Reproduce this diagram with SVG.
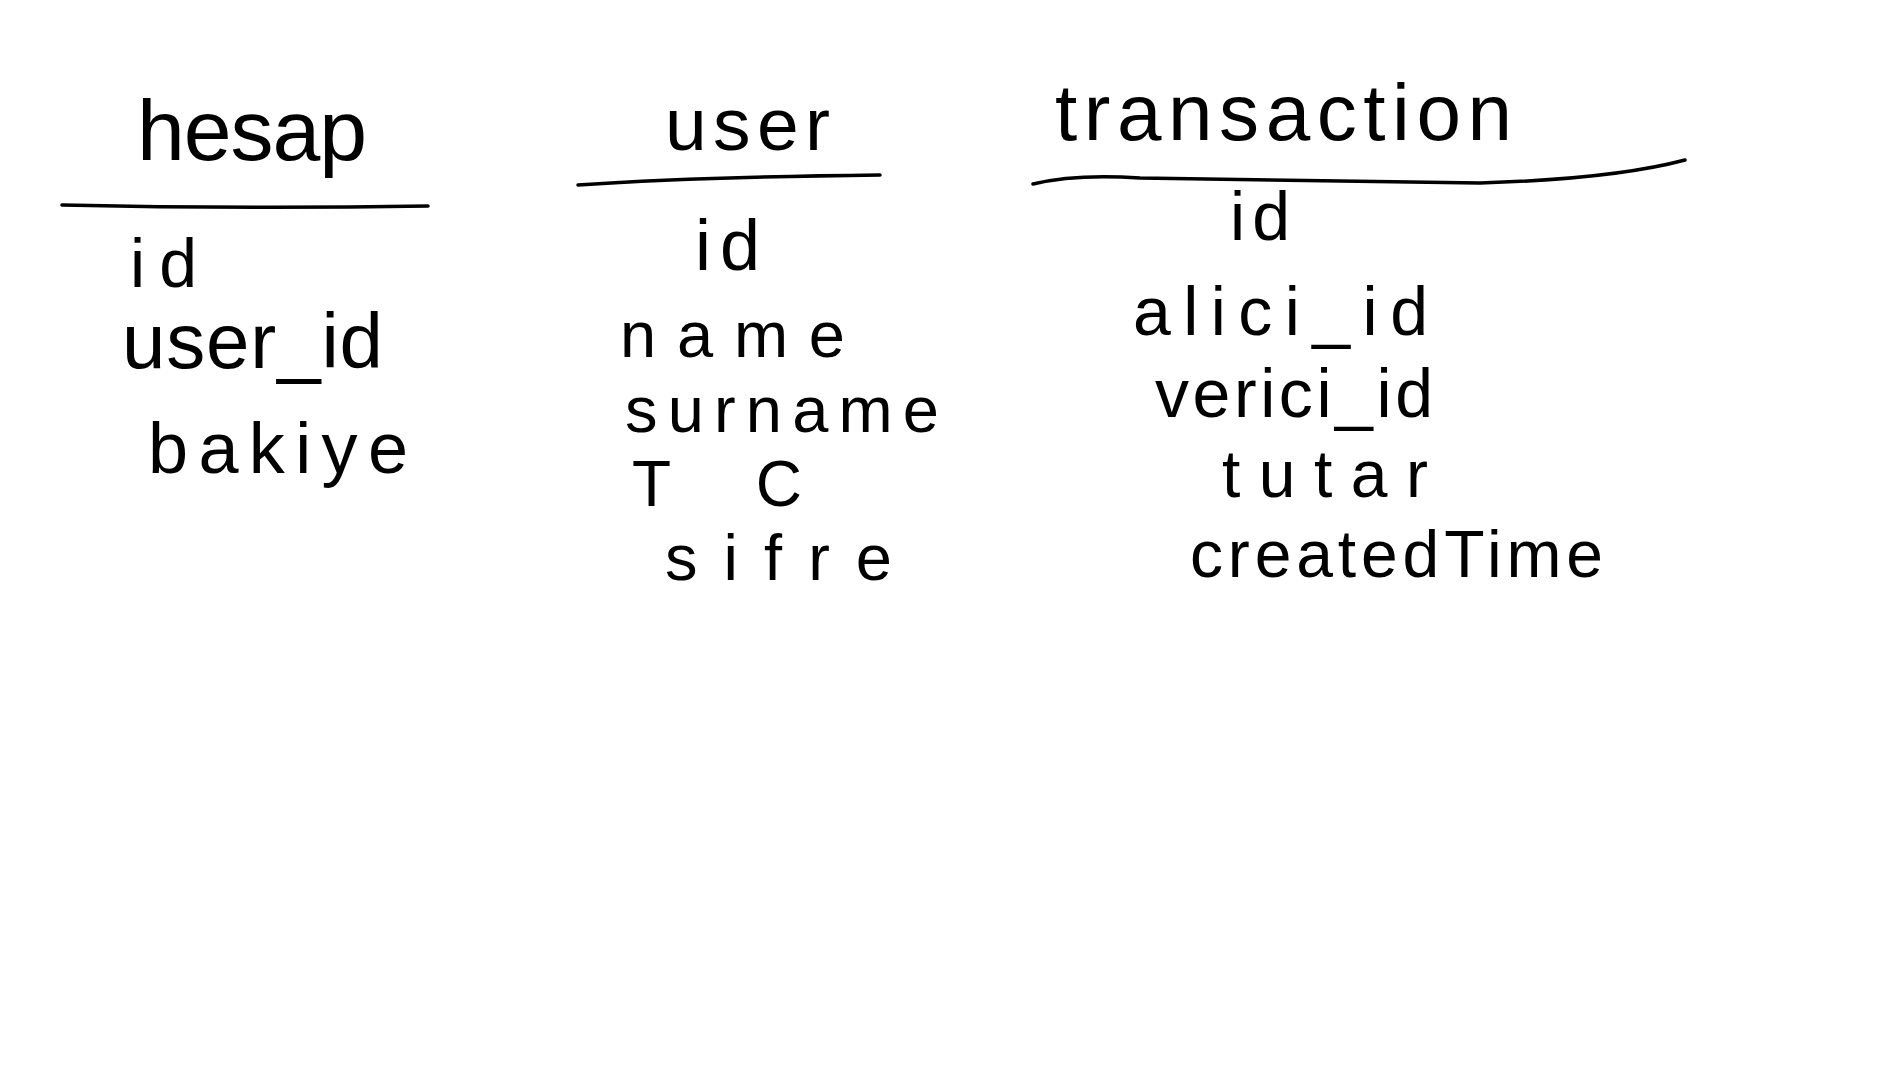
<svg xmlns="http://www.w3.org/2000/svg" width="1899" height="1079" viewBox="0 0 1899 1079">
  <style>
    text { font-family: "Liberation Sans", Arial, sans-serif; fill: #000; }
    .title { font-size: 80px; }
    .field { font-size: 72px; }
    .ufield { font-size: 65px; }
    .rule { fill: none; stroke: #000; stroke-width: 3.5; stroke-linecap: round; stroke-linejoin: round; }
  </style>
  <rect x="0" y="0" width="1899" height="1079" fill="#fff"/>

  <g id="hesap">
    <text class="title" x="137" y="160" style="font-size:86px" textLength="230" lengthAdjust="spacing">hesap</text>
    <path class="rule" d="M62 205 Q245 209 428 206"/>
    <text class="field" x="130" y="287" style="font-size:68px" textLength="67" lengthAdjust="spacing">id</text>
    <text class="field" x="122" y="368" style="font-size:78px" textLength="261" lengthAdjust="spacing">user_id</text>
    <text class="field" x="148" y="473" textLength="260" lengthAdjust="spacing">bakiye</text>
  </g>

  <g id="user">
    <text class="title" x="665" y="150" style="font-size:75px" textLength="165" lengthAdjust="spacing">user</text>
    <path class="rule" d="M578 185 Q700 177 880 175"/>
    <text class="ufield" x="695" y="270" style="font-size:72px" textLength="65" lengthAdjust="spacing">id</text>
    <text class="ufield" x="620" y="357" textLength="225" lengthAdjust="spacing">name</text>
    <text class="ufield" x="625" y="432" textLength="314" lengthAdjust="spacing">surname</text>
    <text class="ufield" x="632" y="506" style="font-size:64px" textLength="170" lengthAdjust="spacing">TC</text>
    <text class="ufield" x="665" y="580" textLength="227" lengthAdjust="spacing">sifre</text>
  </g>

  <g id="transaction">
    <text class="title" x="1055" y="140" textLength="457" lengthAdjust="spacing">transaction</text>
    <path class="rule" d="M1033 184 C1070 175 1110 176 1140 178 L1480 183 C1580 180 1640 172 1685 160"/>
    <text class="field" x="1230" y="240" style="font-size:68px" textLength="60" lengthAdjust="spacing">id</text>
    <text class="field" x="1133" y="335" style="font-size:68px" textLength="295" lengthAdjust="spacing">alici_id</text>
    <text class="field" x="1155" y="417" style="font-size:68px" textLength="278" lengthAdjust="spacing">verici_id</text>
    <text class="field" x="1222" y="497" style="font-size:66px" textLength="206" lengthAdjust="spacing">tutar</text>
    <text class="field" x="1190" y="577" style="font-size:66px" textLength="413" lengthAdjust="spacing">createdTime</text>
  </g>
</svg>
